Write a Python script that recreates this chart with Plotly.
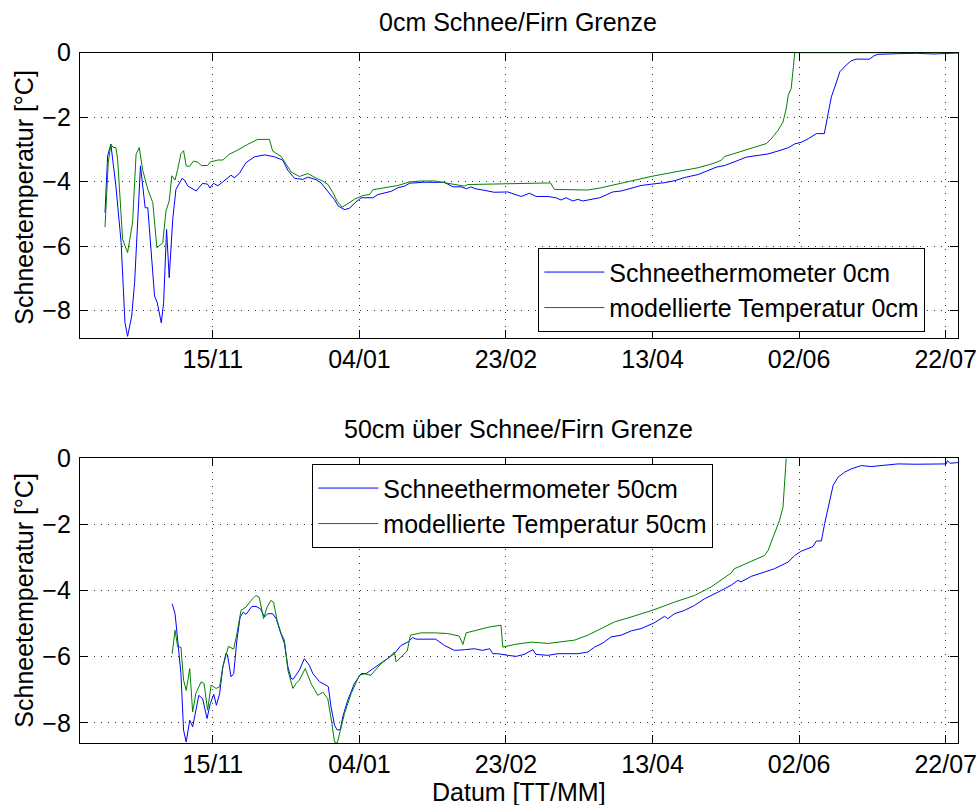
import pandas as pd
import plotly.graph_objects as go

START = pd.Timestamp("2011-10-01")
FONT = "Liberation Sans, Arial, Helvetica, sans-serif"
FS = 25

# ---- 0 cm (snow/firn boundary): days since 1 Oct, temperature in degC ----
day_obs_0 = [8.2, 9.1, 10.2, 11.9, 13.7, 15.0, 15.9, 17.3, 18.3, 19.2, 20.3, 21.9, 22.8,
             25.1, 26.0, 27.4, 28.2, 29.2, 30.1, 31.3, 32.4, 34.5, 35.3, 36.4, 39.3, 41.5,
             43.2, 44.0, 45.2, 46.7, 48.4, 51.2, 52.3, 54.0, 56.3, 59.2, 62.7, 66.0, 68.8,
             70.6, 72.9, 75.7, 77.4, 80.2, 81.9, 84.8, 86.5, 87.8, 90.0, 91.7, 93.4, 95.6,
             99.6, 101.3, 103.6, 105.9, 108.1, 110.4, 112.1, 116.7, 123.9, 126.9, 129.7,
             131.5, 133.0, 134.5, 136.5, 141.0, 145.6, 150.2, 153.0, 155.3, 159.3, 162.0,
             163.8, 165.5, 167.8, 169.5, 171.2, 174.0, 177.0, 179.5, 181.4, 184.3, 187.1,
             191.1, 194.5, 199.2, 202.6, 206.0, 210.5, 213.9, 216.8, 219.6, 221.9, 224.2,
             227.0, 231.0, 234.4, 237.8, 241.3, 243.5, 245.7, 248.1, 250.9, 253.6, 254.9,
             256.0, 257.2, 258.9, 261.1, 262.8, 264.5, 269.0, 270.5, 271.9, 278.8, 285.0,
             291.0, 299.2]
temp_obs_0 = [-4.96, -3.20, -2.84, -4.13, -5.89, -8.37, -8.80, -8.17, -7.13, -5.48, -3.51,
              -4.81, -4.81, -7.55, -7.75, -8.38, -7.75, -5.48, -6.98, -5.17, -4.24, -3.90,
              -3.95, -4.13, -4.29, -4.05, -4.08, -4.20, -4.05, -4.13, -4.00, -3.80, -3.88,
              -3.75, -3.41, -3.23, -3.17, -3.23, -3.33, -3.65, -3.90, -3.93, -3.86, -3.94,
              -4.04, -4.35, -4.56, -4.76, -4.87, -4.82, -4.66, -4.50, -4.50, -4.40, -4.35,
              -4.30, -4.19, -4.14, -4.05, -4.02, -4.02, -4.16, -4.16, -4.22, -4.16, -4.22,
              -4.25, -4.33, -4.32, -4.46, -4.36, -4.46, -4.46, -4.50, -4.57, -4.50, -4.60,
              -4.55, -4.60, -4.55, -4.50, -4.40, -4.32, -4.29, -4.22, -4.12, -4.08, -4.03,
              -3.97, -3.87, -3.78, -3.65, -3.55, -3.50, -3.43, -3.34, -3.24, -3.19, -3.14,
              -3.05, -2.95, -2.83, -2.78, -2.67, -2.51, -2.51, -1.89, -1.37, -1.06, -0.59,
              -0.38, -0.25, -0.20, -0.20, -0.10, -0.05, -0.03, -0.02, -0.04, -0.01]

day_mod_0 = [8.2, 9.3, 10.2, 11.0, 11.9, 12.5, 14.2, 15.9, 17.6, 18.8, 19.9, 21.0, 22.8,
             24.5, 25.9, 27.9, 29.0, 30.1, 31.0, 32.1, 33.0, 34.1, 35.0, 35.9, 37.0, 38.4,
             40.0, 41.0, 43.2, 44.1, 46.7, 48.4, 50.6, 53.5, 56.9, 60.3, 64.3, 65.4, 68.3,
             71.7, 74.5, 77.4, 80.2, 82.6, 84.3, 86.0, 87.4, 89.1, 90.4, 93.4, 96.2, 98.5,
             99.6, 103.6, 108.1, 112.1, 116.0, 120.6, 123.9, 127.4, 130.8, 132.0, 137.7,
             145.6, 154.7, 160.2, 161.5, 168.4, 172.9, 177.5, 184.3, 191.1, 194.5, 202.6,
             210.5, 215.6, 218.4, 219.6, 226.4, 233.8, 235.5, 237.8, 239.5, 240.6, 241.3,
             242.3, 243.1, 243.5, 299.2]
temp_mod_0 = [-5.41, -3.41, -2.84, -2.94, -2.94, -3.30, -5.79, -6.20, -5.27, -3.15, -2.94,
              -3.62, -4.24, -4.65, -6.05, -5.90, -4.91, -4.60, -3.82, -3.95, -3.62, -3.13,
              -3.04, -3.51, -3.53, -3.36, -3.40, -3.50, -3.50, -3.39, -3.33, -3.33, -3.15,
              -3.02, -2.84, -2.69, -2.69, -3.05, -3.22, -3.70, -3.84, -3.75, -3.89, -3.99,
              -4.09, -4.35, -4.61, -4.79, -4.72, -4.54, -4.43, -4.40, -4.25, -4.19, -4.12,
              -4.01, -3.98, -3.98, -4.03, -4.09, -4.14, -4.09, -4.08, -4.06, -4.04, -4.04,
              -4.24, -4.26, -4.26, -4.19, -4.05, -3.92, -3.84, -3.70, -3.57, -3.44, -3.34,
              -3.22, -3.03, -2.82, -2.67, -2.41, -2.15, -1.74, -1.32, -1.11, -0.39, 0.0, 0.0]

# ---- 50 cm above the snow/firn boundary ----
day_obs_50 = [31.1, 32.1, 33.0, 34.1, 35.0, 35.9, 37.1, 38.1, 39.0, 40.2, 41.5, 43.0, 44.1,
              45.3, 46.2, 47.3, 48.4, 49.5, 50.0, 51.2, 52.1, 53.2, 54.3, 55.4, 56.3, 58.3,
              59.7, 61.2, 62.6, 63.7, 65.4, 66.6, 68.0, 69.4, 70.6, 71.7, 72.4, 74.5, 76.2,
              77.9, 79.1, 81.4, 83.6, 84.4, 85.3, 86.5, 87.4, 88.5, 89.3, 91.0, 93.3, 95.6,
              97.3, 98.9, 101.8, 104.6, 106.9, 109.2, 111.5, 113.2, 114.3, 118.3, 121.0,
              124.0, 127.4, 130.8, 134.2, 137.0, 139.4, 140.5, 142.2, 145.6, 148.5, 151.2,
              154.2, 155.2, 159.3, 162.7, 166.0, 169.5, 172.9, 175.2, 178.0, 180.9, 184.3,
              187.7, 191.1, 195.5, 199.1, 200.2, 202.5, 205.9, 209.3, 212.7, 217.3, 221.8,
              224.1, 225.2, 228.7, 233.2, 236.6, 241.2, 243.5, 245.7, 249.7, 250.9, 252.6,
              253.7, 255.1, 256.6, 258.3, 260.5, 262.8, 266.2, 269.6, 274.2, 278.7, 285.0,
              290.0, 295.2, 295.6, 296.5, 299.2]
temp_obs_50 = [-4.40, -4.70, -5.50, -6.51, -8.22, -8.58, -7.92, -8.12, -7.72, -7.17, -7.27,
               -7.87, -7.42, -7.14, -7.47, -7.12, -6.31, -5.89, -5.95, -6.61, -6.51, -5.50,
               -4.80, -4.65, -4.72, -4.48, -4.48, -4.55, -4.80, -4.70, -4.70, -4.85, -5.25,
               -5.60, -6.31, -6.66, -6.68, -6.41, -6.06, -6.26, -6.51, -6.76, -6.86, -6.91,
               -7.52, -8.07, -8.22, -8.20, -7.82, -7.32, -6.81, -6.51, -6.51, -6.41, -6.21,
               -6.06, -5.91, -5.66, -5.56, -5.42, -5.47, -5.47, -5.47, -5.66, -5.81, -5.79,
               -5.76, -5.81, -5.76, -5.91, -5.91, -5.96, -5.99, -5.93, -5.79, -5.93, -5.96,
               -5.91, -5.91, -5.91, -5.86, -5.71, -5.59, -5.40, -5.35, -5.22, -5.15, -4.98,
               -4.78, -4.85, -4.70, -4.60, -4.45, -4.25, -4.05, -3.84, -3.69, -3.74, -3.57,
               -3.44, -3.34, -3.14, -2.94, -2.81, -2.67, -2.50, -2.50, -1.98, -1.43, -0.82,
               -0.57, -0.42, -0.32, -0.22, -0.25, -0.21, -0.17, -0.18, -0.17, -0.17, -0.07,
               -0.15, -0.13]

day_mod_50 = [31.1, 32.1, 33.0, 34.1, 35.0, 35.9, 37.1, 38.1, 39.2, 41.0, 42.0, 43.2, 44.4,
              46.1, 47.3, 48.4, 50.3, 52.1, 53.2, 54.6, 56.3, 58.0, 59.7, 60.8, 62.3, 63.5,
              64.8, 65.7, 66.9, 68.3, 69.4, 70.6, 72.3, 73.4, 74.5, 76.5, 78.5, 80.8, 82.5,
              84.2, 85.6, 86.5, 87.4, 88.5, 89.9, 92.2, 95.0, 96.7, 98.9, 102.4, 105.3,
              106.9, 107.5, 109.2, 111.3, 112.4, 116.0, 120.6, 125.1, 129.1, 130.3, 131.4,
              135.4, 139.4, 143.3, 143.9, 147.9, 153.6, 159.3, 163.8, 168.4, 172.9, 177.5,
              182.0, 187.7, 191.1, 195.5, 202.5, 209.3, 215.0, 218.4, 221.8, 222.9, 228.7,
              233.2, 234.4, 236.6, 238.3, 239.5, 240.1, 240.6]
temp_mod_50 = [-5.91, -5.20, -5.71, -5.71, -6.71, -7.02, -6.36, -7.67, -7.11, -6.76, -6.81,
               -7.62, -6.86, -6.96, -6.91, -6.31, -5.69, -5.77, -5.30, -4.60, -4.50, -4.30,
               -4.15, -4.20, -4.85, -4.50, -4.30, -4.35, -4.90, -5.30, -5.50, -6.41, -6.96,
               -6.81, -6.71, -6.36, -6.81, -7.17, -7.07, -7.27, -8.02, -8.58, -8.62, -8.22,
               -7.72, -7.11, -6.56, -6.52, -6.56, -6.21, -6.01, -5.86, -6.16, -6.01, -5.83,
               -5.35, -5.28, -5.28, -5.30, -5.38, -5.63, -5.28, -5.18, -5.10, -5.05, -5.71,
               -5.63, -5.56, -5.60, -5.55, -5.50, -5.35, -5.15, -4.95, -4.80, -4.70, -4.58,
               -4.35, -4.15, -3.89, -3.69, -3.47, -3.34, -3.11, -2.94, -2.79, -2.28, -1.88,
               -1.48, -0.67, 0.0]

tick_dates = ["2011-11-15", "2012-01-04", "2012-02-23", "2012-04-13", "2012-06-02", "2012-07-22"]
y_ticks = [-8, -6, -4, -2, 0]
x_range = ["2011-09-30 16:00", "2012-07-26 05:00"]
y_range_0 = [-8.86, 0]
y_range_50 = [-8.62, 0]

BLUE = "#0000ff"
GREEN = "#008000"


def to_dates(days):
    return START + pd.to_timedelta(days, unit="D")


W, H = 978, 805
x_dom = [80 / W, 958 / W]
y_dom_top = [1 - 338.3 / H, 1 - 52.7 / H]
y_dom_bot = [1 - 743.3 / H, 1 - 458.3 / H]

fig = go.Figure()
fig.add_trace(go.Scatter(x=to_dates(day_obs_0), y=temp_obs_0, mode="lines",
                         line=dict(color=BLUE, width=1), name="Schneethermometer 0cm",
                         xaxis="x", yaxis="y", legend="legend"))
fig.add_trace(go.Scatter(x=to_dates(day_mod_0), y=temp_mod_0, mode="lines",
                         line=dict(color=GREEN, width=1), name="modellierte Temperatur 0cm",
                         xaxis="x", yaxis="y", legend="legend"))
fig.add_trace(go.Scatter(x=to_dates(day_obs_50), y=temp_obs_50, mode="lines",
                         line=dict(color=BLUE, width=1), name="Schneethermometer 50cm",
                         xaxis="x2", yaxis="y2", legend="legend2"))
fig.add_trace(go.Scatter(x=to_dates(day_mod_50), y=temp_mod_50, mode="lines",
                         line=dict(color=GREEN, width=1), name="modellierte Temperatur 50cm",
                         xaxis="x2", yaxis="y2", legend="legend2"))

axis_style = dict(
    showline=True, linecolor="black", linewidth=1.3, mirror="ticks",
    ticks="inside", ticklen=8, tickwidth=1, tickcolor="black",
    showgrid=True, gridcolor="#333333", gridwidth=1, griddash="1px,6px",
    zeroline=False, tickfont=dict(family=FONT, size=FS, color="black"),
    automargin=False, fixedrange=True, layer="below traces",
)

xaxis_style = dict(axis_style, type="date", range=x_range, domain=x_dom,
                   tickvals=tick_dates, tickformat="%d/%m", ticklabelstandoff=-1)
yaxis_style = dict(axis_style, tickvals=y_ticks, ticklabelstandoff=3)

legend_style = dict(xanchor="left", yanchor="middle", bgcolor="white",
                    bordercolor="black", borderwidth=1.3,
                    font=dict(family=FONT, size=FS, color="black"),
                    itemwidth=60, tracegroupgap=0)

ann_font = dict(family=FONT, size=FS, color="black")
annotations = [
    dict(text="0cm Schnee/Firn Grenze", x=518 / W, y=1 - 22.5 / H),
    dict(text="50cm über Schnee/Firn Grenze", x=518 / W, y=1 - 429.2 / H),
    dict(text="Datum [TT/MM]", x=519 / W, y=1 - 791.5 / H),
    dict(text="Schneetemperatur [°C]", x=23.7 / W, y=1 - 197 / H, textangle=-90),
    dict(text="Schneetemperatur [°C]", x=23.7 / W, y=1 - 600 / H, textangle=-90),
]
for a in annotations:
    a.update(xref="paper", yref="paper", xanchor="center", yanchor="middle",
             showarrow=False, font=ann_font)

fig.update_layout(
    width=W, height=H,
    margin=dict(l=0, r=0, t=0, b=0),
    paper_bgcolor="white", plot_bgcolor="white",
    font=dict(family=FONT, size=FS, color="black"),
    xaxis=dict(xaxis_style, anchor="y"),
    yaxis=dict(yaxis_style, range=y_range_0, domain=y_dom_top, anchor="x"),
    xaxis2=dict(xaxis_style, anchor="y2"),
    yaxis2=dict(yaxis_style, range=y_range_50, domain=y_dom_bot, anchor="x2"),
    legend=dict(legend_style, x=538 / W, y=1 - 290 / H),
    legend2=dict(legend_style, x=312 / W, y=1 - 506 / H),
    annotations=annotations,
    showlegend=True,
)

fig.write_html("out.html")
